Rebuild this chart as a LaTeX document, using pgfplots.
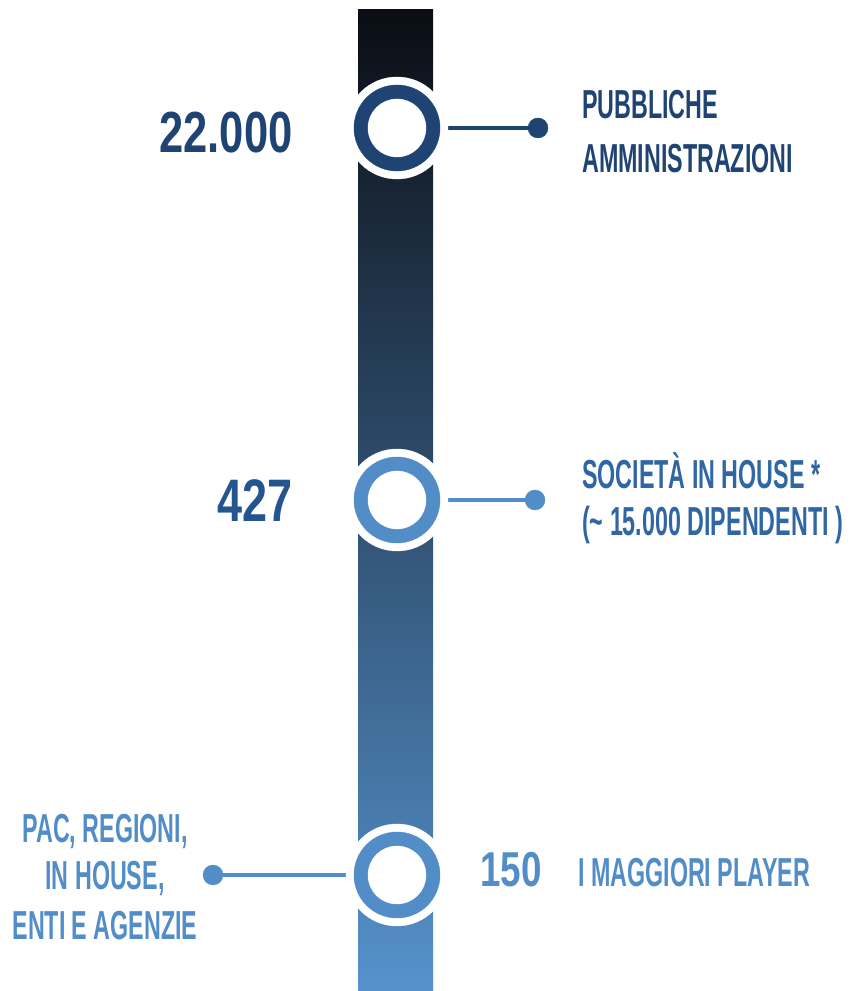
\documentclass[border=0pt]{standalone}
\usepackage{fontspec}
\setmainfont{Liberation Sans}
\newfontfamily\lab{Liberation Sans}[FakeStretch=0.575]
\newfontfamily\num{Liberation Sans}[FakeStretch=0.75]
\usepackage{pgfplots}
\pgfplotsset{compat=1.18}
\definecolor{navy}{HTML}{1F4474}
\definecolor{midblue}{HTML}{245590}
\definecolor{softblue}{HTML}{2F66A3}
\definecolor{light}{HTML}{528DC8}
\definecolor{bartop}{HTML}{0A0D13}
\definecolor{barmid}{HTML}{3A6A9C}
\definecolor{barbot}{HTML}{5692CD}
\begin{document}
\begin{tikzpicture}
\begin{axis}[
    width=861pt, height=991pt, scale only axis,
    xmin=0, xmax=861, ymin=0, ymax=991,
    hide axis, clip=false
]
\path (axis cs:0,0) rectangle (axis cs:861,991);

% gradient bar
\addplot[draw=none, top color=bartop, middle color=barmid, bottom color=barbot]
  coordinates {(358,0) (433,0) (433,981) (358,981)} -- cycle;

% white halo behind the circles
\addplot[only marks, mark=*, mark size=51pt, white] coordinates {(397,863) (397,491) (397,116)};

% connectors
\addplot[navy, line width=3.5pt] coordinates {(420,863) (538,863)};
\addplot[light, line width=3.5pt] coordinates {(420,491) (535,491)};
\addplot[light, line width=3.5pt] coordinates {(375,116) (213,116)};
\addplot[only marks, mark=*, mark size=10pt, navy] coordinates {(538,863)};
\addplot[only marks, mark=*, mark size=10pt, light] coordinates {(535,491) (213,116)};

% rings
\addplot[only marks, mark=*, mark size=43pt, navy] coordinates {(397,863)};
\addplot[only marks, mark=*, mark size=43pt, light] coordinates {(397,491) (397,116)};
\addplot[only marks, mark=*, mark size=29pt, white] coordinates {(397,863) (397,491) (397,116)};

% numbers
\node[anchor=base east, navy, font=\fontsize{58}{58}\num\bfseries] at (axis cs:296,838) {22.000};
\node[anchor=base east, midblue, font=\fontsize{60}{60}\num\bfseries] at (axis cs:296,469) {427};
\node[anchor=base west, light, font=\fontsize{49}{49}\num\bfseries, inner xsep=0pt] at (axis cs:480,104) {150};

% labels
\tikzset{lbl/.style={font=\fontsize{40.5}{40.5}\lab\bfseries, inner xsep=0pt}}
\node[lbl, anchor=base west, navy] at (axis cs:582,872) {PUBBLICHE};
\node[lbl, anchor=base west, navy] at (axis cs:582,818) {AMMINISTRAZIONI};
\node[lbl, anchor=base west, softblue] at (axis cs:582,502) {SOCIETÀ IN HOUSE *};
\node[lbl, anchor=base west, softblue] at (axis cs:582,455) {(\textasciitilde{} 15.000 DIPENDENTI )};
\node[lbl, anchor=base west, light] at (axis cs:578,104) {I MAGGIORI PLAYER};
\node[lbl, anchor=base, light] at (axis cs:105,148) {PAC, REGIONI,};
\node[lbl, anchor=base, light] at (axis cs:105,101) {IN HOUSE,};
\node[lbl, anchor=base, light] at (axis cs:105,51) {ENTI E AGENZIE};
\end{axis}
\end{tikzpicture}
\end{document}
